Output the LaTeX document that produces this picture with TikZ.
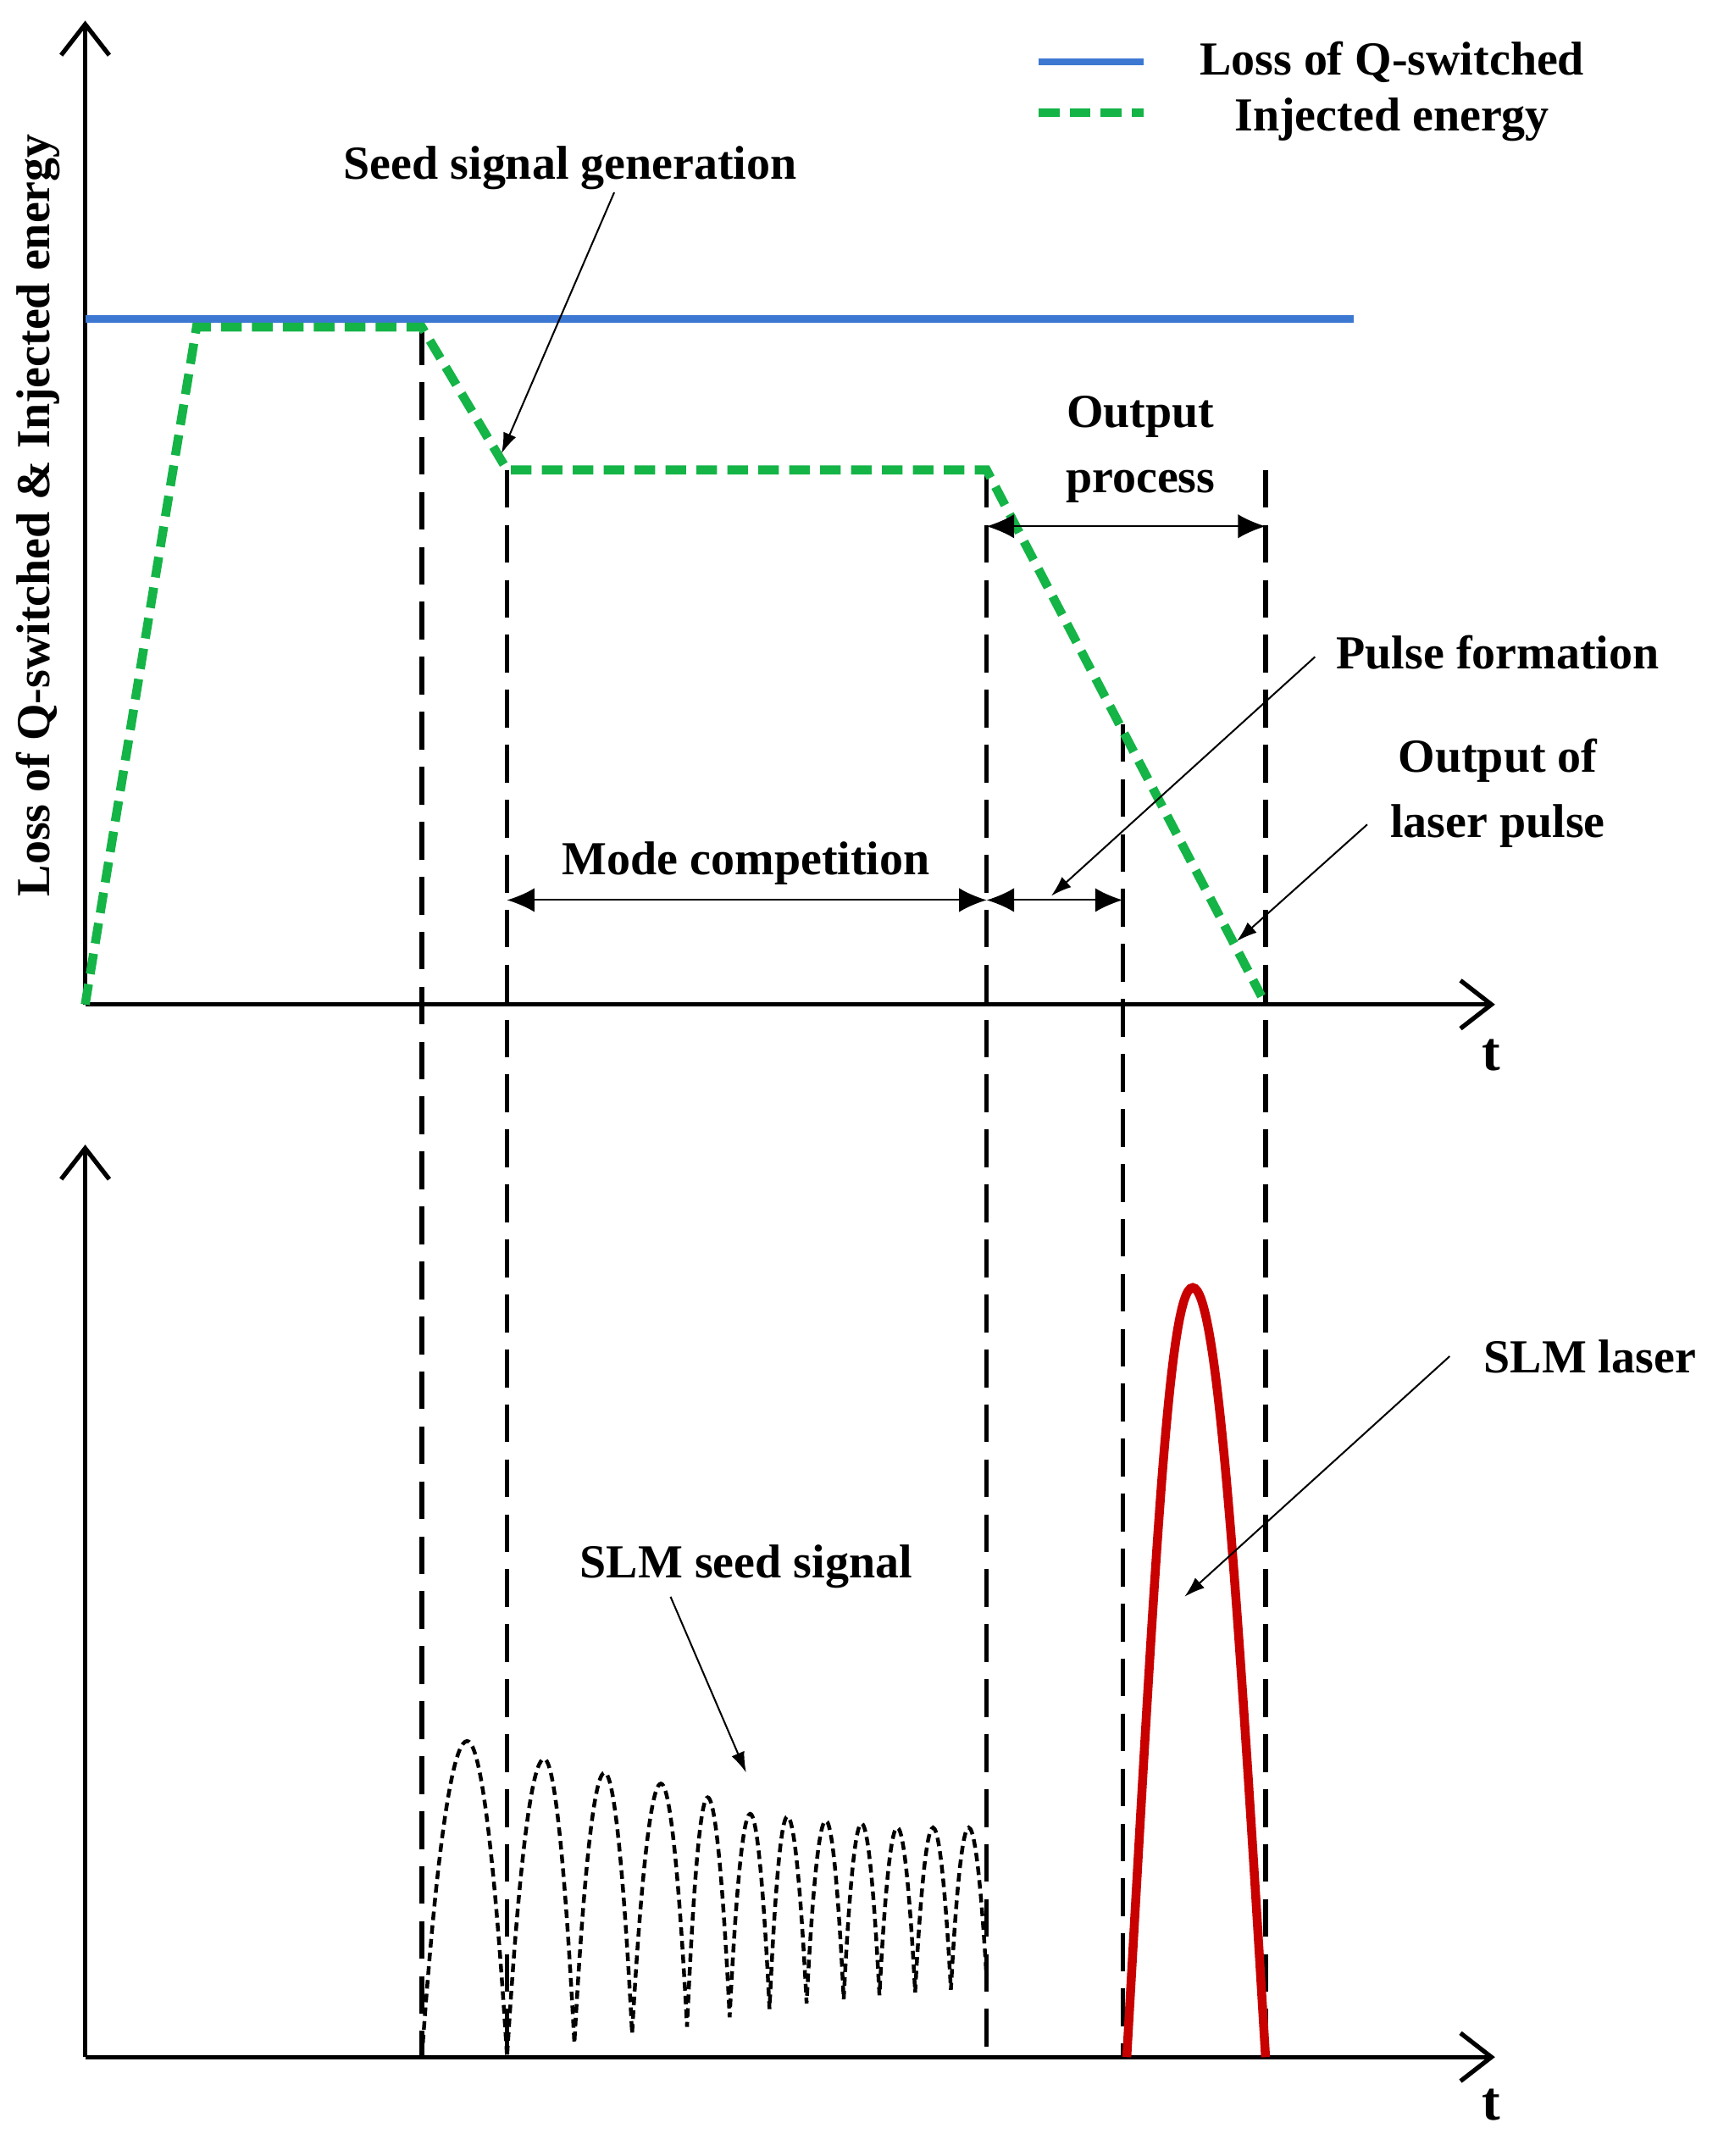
\documentclass[tikz,border=0pt]{standalone}
\usepackage{fontspec}
\setmainfont{Liberation Serif}
\usetikzlibrary{arrows.meta}
\definecolor{lblue}{RGB}{60,120,210}
\definecolor{lgreen}{RGB}{20,180,70}
\definecolor{lred}{RGB}{200,0,0}
\begin{document}
\begin{tikzpicture}[x=0.4pt,y=-0.4pt,
  axis/.style={line width=1.3pt,-{Straight Barb[length=9pt,width=14pt,line width=1.3pt]}},
  vdash/.style={line width=1.3pt,dash pattern=on 11pt off 5pt},
  dim/.style={line width=0.5pt,{Latex[length=8pt,width=7pt]}-{Latex[length=8pt,width=7pt]}},
  lead/.style={line width=0.5pt,-{Latex[length=6pt,width=4pt]}},
  lbl/.style={font=\bfseries\fontsize{13.8}{15}\selectfont,align=center,inner sep=0pt},
  grn/.style={lgreen,line width=2.6pt,dash pattern=on 6pt off 3pt},
  blu/.style={lblue,line width=2.2pt}]
\useasboundingbox (0,0) rectangle (1250,1569);
% axes top
\coordinate (o1) at (62,731); \coordinate (y1) at (62,15); \coordinate (x1) at (1088,731);
\draw[axis] (o1) -- (y1); \draw[axis] (o1) -- (x1);
\node[lbl,font=\bfseries\fontsize{16}{18}\selectfont] (t1) at (1085,768) {t};
\node[lbl,rotate=90] (ylab) at (28,375) {Loss of Q-switched \& Injected energy};
% axes bottom
\coordinate (o2) at (62,1497); \coordinate (y2) at (62,833); \coordinate (x2) at (1088,1497);
\draw[axis] (o2) -- (y2); \draw[axis] (o2) -- (x2);
\node[lbl,font=\bfseries\fontsize{16}{18}\selectfont] (t2) at (1085,1532) {t};
% vertical dashed
\coordinate (v1a) at (307,238); \coordinate (v1b) at (307,1497);
\coordinate (v2a) at (369,342); \coordinate (v2b) at (369,1497);
\coordinate (v3a) at (718,342); \coordinate (v3b) at (718,1497);
\coordinate (v4a) at (817,527); \coordinate (v4b) at (817,1497);
\coordinate (v5a) at (921,342); \coordinate (v5b) at (921,1497);
\foreach \a/\b in {v1a/v1b,v2a/v2b,v3a/v3b,v4a/v4b,v5a/v5b} \draw[vdash] (\a) -- (\b);
% curves
\draw[blu] (62,232) -- (985,232);
\draw[grn] (62,731) -- (143,238) -- (307,238) -- (369,342) -- (718,342) -- (918,725);
% legend
\draw[blu] (756,45) -- (832,45);
\draw[grn] (756,82) -- (832,82);
\node[lbl] (lg1) at (1013,45) {Loss of Q-switched};
\node[lbl] (lg2) at (1013,87) {Injected energy};
% dimension arrows
\coordinate (m1) at (369,655); \coordinate (m2) at (718,655); \coordinate (m3) at (817,655);
\draw[dim] (m1) -- (m2); \draw[dim] (m2) -- (m3);
\node[lbl] (mc) at (543,628) {Mode competition};
\coordinate (p1) at (718,383); \coordinate (p2) at (921,383);
\draw[dim] (p1) -- (p2);
\node[lbl] (op) at (830,327) {Output\\[4pt]process};
% leaders
\node[lbl] (ssg) at (415,122) {Seed signal generation};
\coordinate (ssgA) at (447,140); \coordinate (ssgB) at (365,330);
\draw[lead] (ssgA) -- (ssgB);
\node[lbl] (pf) at (1090,475) {Pulse formation};
\coordinate (pfA) at (957,478); \coordinate (pfB) at (765,652);
\draw[lead] (pfA) -- (pfB);
\node[lbl] (olp) at (1090,577) {Output of\\[4pt]laser pulse};
\coordinate (olA) at (995,600); \coordinate (olB) at (900,685);
\draw[lead] (olA) -- (olB);
% red pulse
\draw[lred,line width=2.6pt] (820,1497) .. controls (840,1150) and (850,937) .. (868,937) .. controls (886,937) and (900,1150) .. (921,1497);
\node[lbl] (slm) at (1157,987) {SLM laser};
\coordinate (slA) at (1055,987); \coordinate (slB) at (862,1162);
\draw[lead] (slA) -- (slB);
% seed signal
\draw[line width=1.1pt,dash pattern=on 2.5pt off 1.5pt]
 (307,1497) parabola bend (340,1267) (369,1497)
 parabola bend (396,1280) (418,1487)
 parabola bend (440,1290) (460,1480)
 parabola bend (481,1298) (500,1475)
 parabola bend (515,1308) (531,1468)
 parabola bend (546,1320) (560,1462)
 parabola bend (573,1322) (587,1458)
 parabola bend (601,1325) (614,1455)
 parabola bend (627,1327) (640,1452)
 parabola bend (653,1330) (666,1450)
 parabola bend (679,1330) (692,1448)
 parabola bend (705,1330) (718,1440);
\node[lbl] (sss) at (543,1140) {SLM seed signal};
\coordinate (ssA) at (488,1162); \coordinate (ssB) at (543,1290);
\draw[lead] (ssA) -- (ssB);
\end{tikzpicture}
\end{document}
